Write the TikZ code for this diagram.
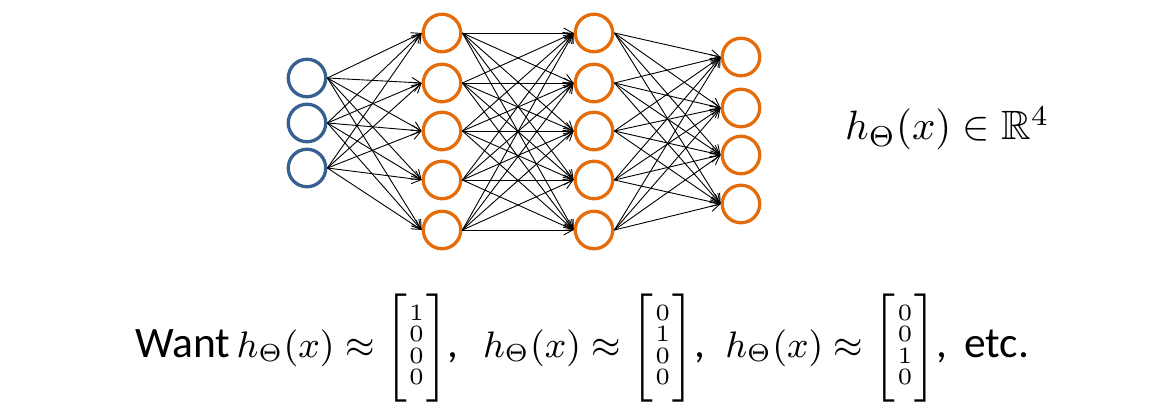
\documentclass[tikz,border=0pt]{standalone}
\usepackage{amssymb}
\usepackage{graphicx}
\usepackage{fontspec}
\newfontfamily\carl{Carlito}
\usetikzlibrary{arrows.meta}
\definecolor{inblue}{RGB}{55,96,146}
\definecolor{hidorange}{RGB}{228,108,10}
\newcommand\mybrk[1]{\vcenter{\hbox{$#1$}}}
\newcommand\colv[4]{\mybrk{\biggl[}\vcenter{\hbox{\rmfamily\fontsize{5.7}{4.7}\selectfont\begin{tabular}{@{\kern0.6pt}c@{\kern0.6pt}}#1\\#2\\#3\\#4\end{tabular}}}\mybrk{\biggr]}}
\newcommand\cb[1]{{\carl\fontsize{10.6}{13}\selectfont #1}}
\newcommand\mh[1]{{\fontsize{8.8}{10}\selectfont$#1$}}
\tikzset{
  neuron/.style={circle, minimum size=37.5pt, inner sep=0pt, line width=3.3pt, draw=hidorange, fill=white},
  inneuron/.style={neuron, draw=inblue},
  edge/.style={line width=0.9pt, black, -{Straight Barb[length=9pt,width=10pt]}},
  lbl/.style={inner sep=0pt, anchor=base west}
}
\begin{document}
\begin{tikzpicture}[x=1pt,y=-1pt]
\useasboundingbox (0,0) rectangle (1153,419);
\foreach \k/\y in {1/78,2/123,3/168} \node[inneuron] (i\k) at (307,\y) {};
\foreach \k/\y in {1/33,2/83,3/131,4/180,5/230} \node[neuron] (a\k) at (442,\y) {};
\foreach \k/\y in {1/33,2/83,3/131,4/180,5/230} \node[neuron] (b\k) at (594,\y) {};
\foreach \k/\y in {1/57,2/108,3/155,4/204} \node[neuron] (o\k) at (741,\y) {};
\foreach \s in {1,2,3} \foreach \t in {1,...,5} \draw[edge] (i\s.east) -- (a\t.west);
\foreach \s in {1,...,5} \foreach \t in {1,...,5} \draw[edge] (a\s.east) -- (b\t.west);
\foreach \s in {1,...,5} \foreach \t in {1,...,4} \draw[edge] (b\s.east) -- (o\t.west);
\node[lbl] (out) at (845,140) {\scalebox{4.1}{$h_\Theta(x)\in\mathbb{R}^4$}};
\node[lbl] (want) at (135,357) {\scalebox{4.1}{\cb{Want}\hspace{1.6pt}\mh{h_\Theta(x)\approx\colv1000}\cb{,}\hspace{6pt}\mh{h_\Theta(x)\approx\colv0100}\cb{,}\hspace{5pt}\mh{h_\Theta(x)\approx\colv0010}\cb{,\ \,etc.}}};
\end{tikzpicture}
\end{document}
